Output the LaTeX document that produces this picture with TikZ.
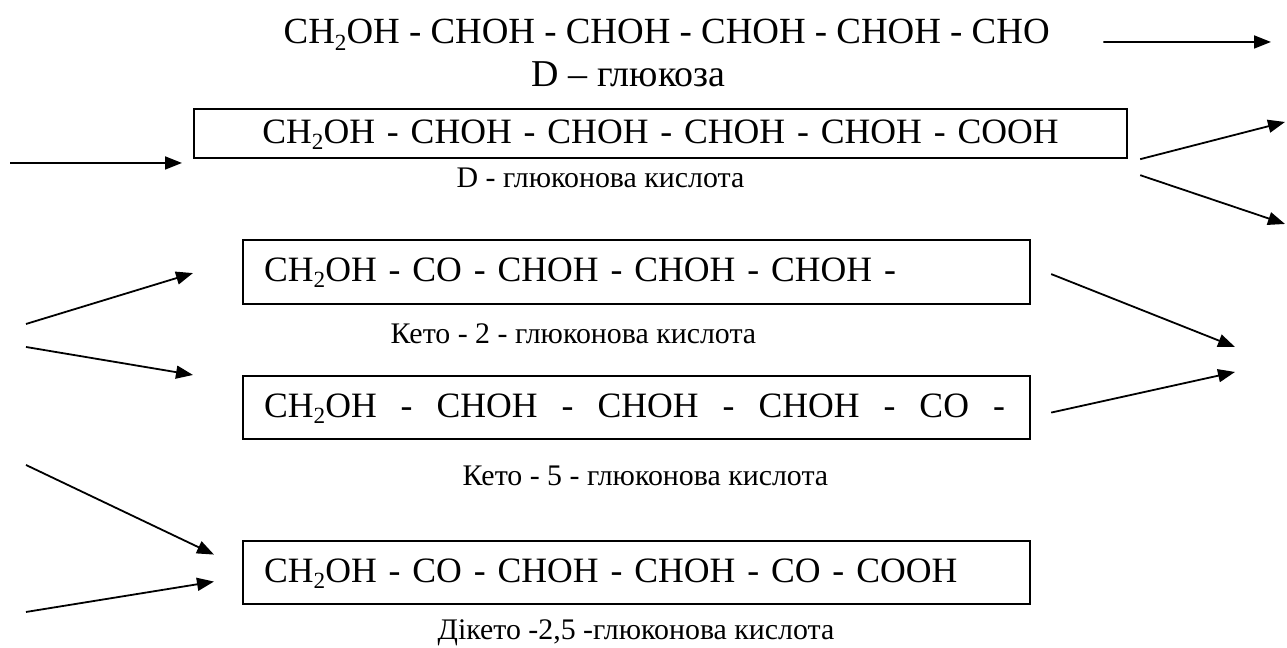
\documentclass[tikz,border=0pt]{standalone}
\usepackage{fontspec}
\setmainfont{Liberation Serif}
\usetikzlibrary{arrows.meta}

\newcommand\sub[1]{\raisebox{-0.17em}{\fontsize{6.6}{7}\selectfont #1}}
\newcommand\gap{\hspace{0.240cm}}

\tikzset{
  formula/.style={font=\fontsize{10.15}{12}\selectfont, inner sep=0cm},
  title/.style={font=\fontsize{10.5}{12}\selectfont, inner sep=0cm, anchor=base west},
  caption/.style={font=\fontsize{8.5}{10}\selectfont, inner sep=0cm, anchor=base west},
  box/.style={draw, line width=0.022cm, anchor=north west, text height=0.25cm, text depth=0.06cm},
  arr/.style={line width=0.018cm, -{Triangle[length=0.17cm,width=0.13cm]}},
}

\begin{document}
\begin{tikzpicture}
                    \useasboundingbox (0,0) rectangle (12.870000,6.480000);

                    % Marking D-glucose
                    \node [title] (glc) at (2.830000,6.040000) {CH\sub{2}OH - CHOH - CHOH - CHOH - CHOH - CHO};%
                    \node [title, font=\fontsize{10.8}{12}\selectfont] (glcname) at (5.310000,5.610000) {D – глюкоза};%

                    % Marking D-gluconic acid
                    \node [formula, box, minimum height=0.490000cm, inner xsep=0cm, text width=9.330000cm, align=center] (gluc) at (1.930000,5.400000) {CH\sub{2}OH - CHOH - CHOH - CHOH - CHOH - COOH};%
                    \node [caption] (glucname) at (4.560000,4.600000) {D - глюконова кислота};%

                    % Marking keto-2-gluconic acid
                    \node [formula, box, minimum height=0.640000cm, inner xsep=0.210000cm, text width=7.450000cm, align=left] (ketoa) at (2.420000,4.090000) {CH\sub{2}OH - CO - CHOH - CHOH - CHOH -};%
                    \node [caption] (ketoaname) at (3.900000,3.040000) {Кето - 2 - глюконова кислота};%

                    % Marking keto-5-gluconic acid
                    \node [formula, box, minimum height=0.630000cm, inner xsep=0.210000cm, text width=7.450000cm, align=left] (ketob) at (2.420000,2.730000) {\mbox{CH\sub{2}OH\gap-\gap CHOH\gap-\gap CHOH\gap-\gap CHOH\gap-\gap CO\gap-}};%
                    \node [caption] (ketobname) at (4.620000,1.620000) {Кето - 5 - глюконова кислота};%

                    % Marking diketo-2,5-gluconic acid
                    \node [formula, box, minimum height=0.630000cm, inner xsep=0.210000cm, text width=7.450000cm, align=left] (diketo) at (2.420000,1.080000) {CH\sub{2}OH - CO - CHOH - CHOH - CO - COOH};%
                    \node [caption] (diketoname) at (4.370000,0.080000) {Дікето -2,5 -глюконова кислота};%

                    % Free ends of the arrows
                    \coordinate (glcout) at (12.710000,6.060000);
                    \coordinate (glucin) at (0.100000,4.850000);
                    \coordinate (glucfront) at ([xshift=-0.110000cm]gluc.west);
                    \coordinate (glucupper) at (12.850000,5.260000);
                    \coordinate (gluclower) at (12.850000,4.240000);
                    \coordinate (ketoin) at (0.260000,3.240000);
                    \coordinate (ketoinb) at (0.260000,3.010000);
                    \coordinate (ketomeet) at (12.350000,3.010000);
                    \coordinate (ketomeetb) at (12.350000,2.760000);
                    \coordinate (diketoin) at (0.260000,1.830000);
                    \coordinate (diketoinb) at (0.260000,0.360000);

                    % Drawing arrow glc -- glcout
                    \draw [arr] ([xshift=0.530000cm,yshift=0.020000cm]glc.base east) -- (glcout);%

                    % Drawing arrow glucin -- gluc
                    \draw [arr] (glucin) -- (glucin -| glucfront);%

                    % Drawing arrows out of gluc
                    \draw [arr] ([xshift=0.120000cm]gluc.south east) -- (glucupper);%
                    \draw [arr] ([xshift=0.120000cm,yshift=-0.160000cm]gluc.south east) -- (gluclower);%

                    % Drawing arrows into ketoa and ketob
                    \draw [arr] (ketoin) -- ([xshift=-0.490000cm,yshift=-0.010000cm]ketoa.west);%
                    \draw [arr] (ketoinb) -- ([xshift=-0.490000cm]ketob.north west);%

                    % Drawing arrows out of ketoa and ketob
                    \draw [arr] ([xshift=0.200000cm,yshift=-0.020000cm]ketoa.east) -- (ketomeet);%
                    \draw [arr] ([xshift=0.200000cm,yshift=-0.050000cm]ketob.east) -- (ketomeetb);%

                    % Drawing arrows into diketo
                    \draw [arr] (diketoin) -- ([xshift=-0.280000cm,yshift=0.180000cm]diketo.west);%
                    \draw [arr] (diketoinb) -- ([xshift=-0.280000cm,yshift=-0.090000cm]diketo.west);%
\end{tikzpicture}
\end{document}
